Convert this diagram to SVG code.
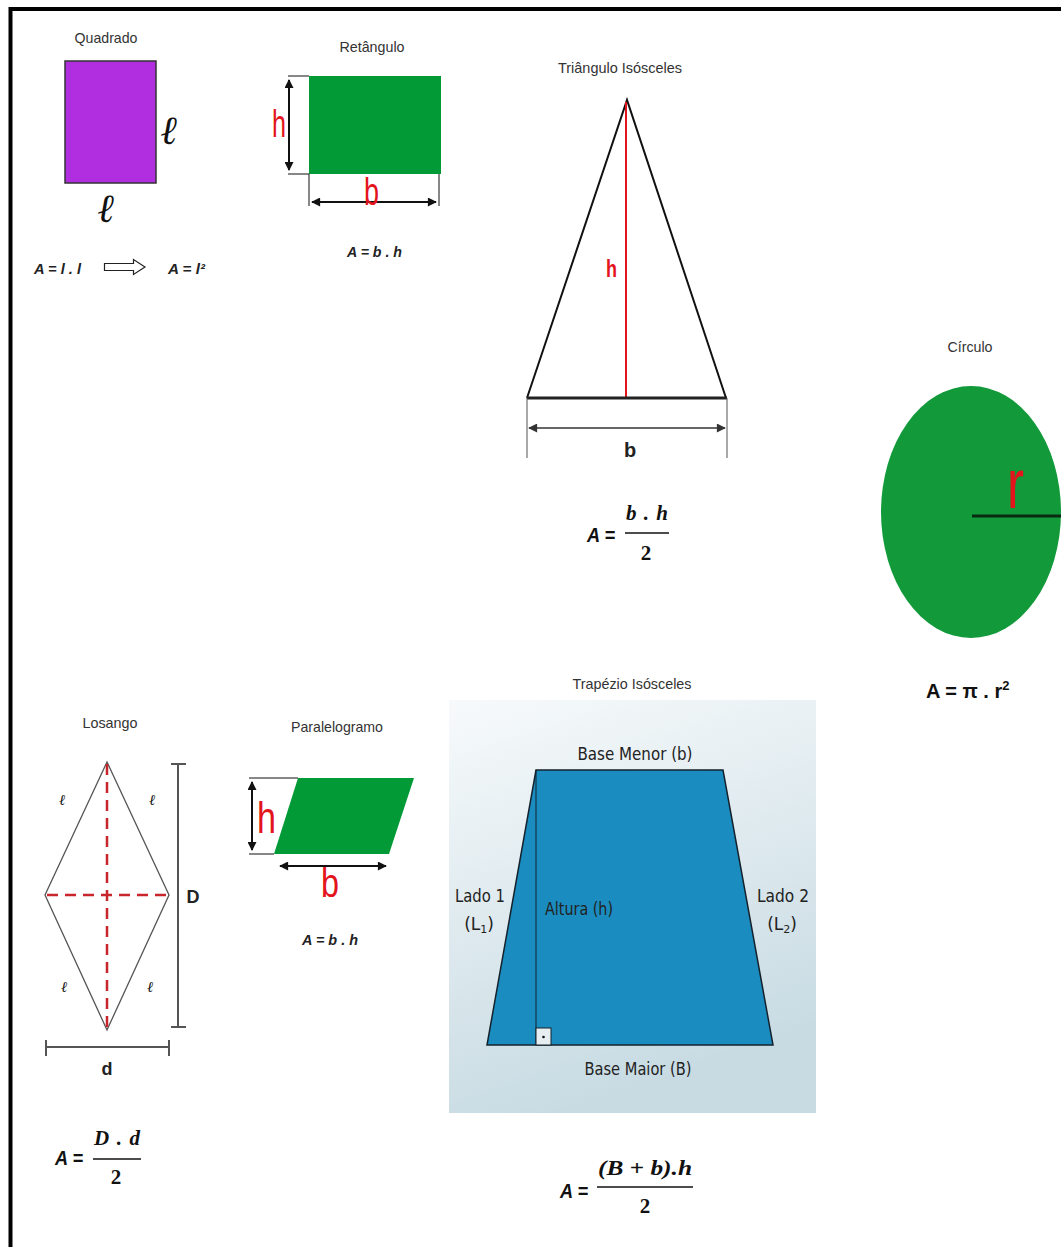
<svg xmlns="http://www.w3.org/2000/svg" width="1061" height="1247" viewBox="0 0 1061 1247">
<style>
.title{font-family:"Liberation Sans",Arial,sans-serif;font-size:15px;fill:#333}
.fml{font-family:"Liberation Sans",Arial,sans-serif;font-size:15px;font-weight:bold;font-style:italic;fill:#222}
.mfml{font-family:"Liberation Sans",Arial,sans-serif;font-size:21px;font-weight:bold;font-style:italic;fill:#111}
.math{font-family:"Liberation Serif","Times New Roman",serif;font-weight:bold;font-style:italic;font-size:21px;fill:#111}
.num{font-family:"Liberation Serif","Times New Roman",serif;font-weight:bold;font-size:21px;fill:#111}
.red{font-family:"Liberation Sans",Arial,sans-serif;fill:#e3141c}
.lab{font-family:"Liberation Sans",Arial,sans-serif;font-weight:bold;fill:#222}
.goth{font-family:"DejaVu Sans","Liberation Sans",sans-serif;font-size:17px;fill:#222}
.ell{font-family:"DejaVu Serif","Liberation Serif",serif;font-style:italic;fill:#111}
.dim{stroke:#111;stroke-width:2;fill:none}
.thin{stroke:#111;stroke-width:1;fill:none}
.bar{stroke:#111;stroke-width:1.5}
.green{fill:#029a36}
</style>
<defs>
<marker id="ah" viewBox="0 0 10 10" refX="9" refY="5" markerWidth="10" markerHeight="9" markerUnits="userSpaceOnUse" orient="auto-start-reverse">
<path d="M0,0 L10,5 L0,10 Z" fill="#111"/>
</marker>
<marker id="ahg" viewBox="0 0 10 10" refX="9" refY="5" markerWidth="10" markerHeight="9" markerUnits="userSpaceOnUse" orient="auto-start-reverse">
<path d="M0,0 L10,5 L0,10 Z" fill="#333"/>
</marker>
<linearGradient id="bg" x1="0" y1="0" x2="0.3" y2="1">
<stop offset="0" stop-color="#f7fafb"/>
<stop offset="1" stop-color="#c8dbe3"/>
</linearGradient>
</defs>
<rect width="1061" height="1247" fill="#fff"/>
<path d="M10.5,1247 V9 H1061" fill="none" stroke="#000" stroke-width="4"/>

<g id="quadrado">
<text class="title" x="106" y="43" text-anchor="middle" textLength="63" lengthAdjust="spacingAndGlyphs">Quadrado</text>
<rect x="65" y="61" width="91" height="122" fill="#b12ee0" stroke="#333" stroke-width="1.5"/>
<text class="ell" x="161" y="144" font-size="40" font-weight="bold">ℓ</text>
<text class="ell" x="98" y="222" font-size="40" font-weight="bold">ℓ</text>
<text class="fml" x="34" y="274" textLength="47" lengthAdjust="spacingAndGlyphs">A = l . l</text>
<text class="fml" x="168" y="274" textLength="37" lengthAdjust="spacingAndGlyphs">A = l²</text>
</g>

<g id="retangulo">
<text class="title" x="372" y="52" text-anchor="middle" textLength="65" lengthAdjust="spacingAndGlyphs">Retângulo</text>
<rect class="green" x="309" y="76" width="132" height="98"/>
<path class="thin" d="M288,76 H309 M288,174 H309 M309,174 V206 M439,174 V206"/>
<path class="dim" d="M289,80 V170" marker-start="url(#ah)" marker-end="url(#ah)"/>
<path class="dim" d="M312,202 H436" marker-start="url(#ah)" marker-end="url(#ah)"/>
<text class="red" x="272" y="137" font-size="38" textLength="14" lengthAdjust="spacingAndGlyphs">h</text>
<text class="red" x="364" y="205" font-size="38" textLength="15" lengthAdjust="spacingAndGlyphs">b</text>
<text class="fml" x="347" y="257" textLength="55" lengthAdjust="spacingAndGlyphs">A = b . h</text>
</g>

<g id="triangulo">
<text class="title" x="620" y="73" text-anchor="middle" textLength="124" lengthAdjust="spacingAndGlyphs">Triângulo Isósceles</text>
<path d="M527,398 L627,100 L726,398" fill="none" stroke="#111" stroke-width="2"/>
<line x1="626" y1="102" x2="626" y2="398" stroke="#e3141c" stroke-width="2"/>
<line x1="527" y1="398" x2="727" y2="398" stroke="#222" stroke-width="3"/>
<path d="M527,398 V458 M727,398 V458" stroke="#555" stroke-width="1" fill="none"/>
<path d="M529,428 H725" stroke="#333" stroke-width="1.5" fill="none" marker-start="url(#ahg)" marker-end="url(#ahg)"/>
<text class="red" x="606" y="277" font-size="24" font-weight="bold" textLength="11" lengthAdjust="spacingAndGlyphs">h</text>
<text class="lab" x="630" y="457" font-size="20" text-anchor="middle">b</text>
<text class="mfml" x="587" y="542" textLength="28" lengthAdjust="spacingAndGlyphs">A =</text>
<text class="math" x="647" y="520" text-anchor="middle" textLength="42" lengthAdjust="spacing" xml:space="preserve">b . h</text>
<line class="bar" x1="625" y1="533" x2="669" y2="533"/>
<text class="num" x="646" y="560" text-anchor="middle">2</text>
</g>

<g id="circulo">
<text class="title" x="970" y="352" text-anchor="middle" textLength="45" lengthAdjust="spacingAndGlyphs">Círculo</text>
<ellipse cx="971" cy="512" rx="90" ry="126" fill="#11993a"/>
<line x1="972" y1="516" x2="1061" y2="516" stroke="#0a2a12" stroke-width="3"/>
<text class="red" x="1007" y="508" font-size="70" textLength="17" lengthAdjust="spacingAndGlyphs">r</text>
<text x="926" y="698" font-family="Liberation Sans,Arial,sans-serif" font-weight="bold" font-size="20" fill="#111">A = π . r<tspan font-size="13" dy="-8">2</tspan></text>
</g>

<g id="losango">
<text class="title" x="110" y="728" text-anchor="middle" textLength="55" lengthAdjust="spacingAndGlyphs">Losango</text>
<path d="M107,762 L169,895 L107,1030 L45,895 Z" fill="none" stroke="#555" stroke-width="1.3"/>
<path d="M107,764 V1028 M47,895 H167" stroke="#c8262c" stroke-width="2.5" stroke-dasharray="11,7" fill="none"/>
<path d="M178,764 V1027 M171,764 H186 M171,1027 H186" stroke="#555" stroke-width="2" fill="none"/>
<path d="M46,1047 H169 M46,1040 V1056 M169,1040 V1056" stroke="#555" stroke-width="2" fill="none"/>
<text class="lab" x="193" y="903" font-size="18" text-anchor="middle">D</text>
<text class="lab" x="107" y="1075" font-size="18" text-anchor="middle">d</text>
<text class="ell" x="59" y="805" font-size="15" fill="#333">ℓ</text>
<text class="ell" x="149" y="805" font-size="15" fill="#333">ℓ</text>
<text class="ell" x="61" y="992" font-size="15" fill="#333">ℓ</text>
<text class="ell" x="147" y="992" font-size="15" fill="#333">ℓ</text>
<text class="mfml" x="55" y="1165" textLength="28" lengthAdjust="spacingAndGlyphs">A =</text>
<text class="math" x="117" y="1145" text-anchor="middle" textLength="46" lengthAdjust="spacing" xml:space="preserve">D . d</text>
<line class="bar" x1="93" y1="1159" x2="141" y2="1159"/>
<text class="num" x="116" y="1184" text-anchor="middle">2</text>
</g>

<g id="paralelogramo">
<text class="title" x="337" y="732" text-anchor="middle" textLength="92" lengthAdjust="spacingAndGlyphs">Paralelogramo</text>
<polygon class="green" points="298,778 414,778 389,854 274,854"/>
<path class="thin" d="M249,778 H298 M249,854 H274"/>
<path class="dim" d="M252,782 V850" marker-start="url(#ah)" marker-end="url(#ah)"/>
<path class="dim" d="M280,866 H386" marker-start="url(#ah)" marker-end="url(#ah)"/>
<text class="red" x="257" y="833" font-size="44" textLength="19" lengthAdjust="spacingAndGlyphs">h</text>
<text class="red" x="321" y="897" font-size="40" textLength="18" lengthAdjust="spacingAndGlyphs">b</text>
<text class="fml" x="302" y="945" textLength="56" lengthAdjust="spacingAndGlyphs">A = b . h</text>
</g>

<g id="trapezio">
<text class="title" x="632" y="689" text-anchor="middle" textLength="119" lengthAdjust="spacingAndGlyphs">Trapézio Isósceles</text>
<rect x="449" y="700" width="367" height="413" fill="url(#bg)"/>
<polygon points="536,770 723,770 773,1045 487,1045" fill="#1a8cc0" stroke="#15222c" stroke-width="1.5"/>
<line x1="536" y1="770" x2="536" y2="1045" stroke="#15222c" stroke-width="1"/>
<rect x="536" y="1028" width="15" height="17" fill="#e6eef2" stroke="#15222c" stroke-width="1"/>
<circle cx="543.5" cy="1037" r="1.3" fill="#111"/>
<text class="goth" x="635" y="760" text-anchor="middle" textLength="115" lengthAdjust="spacingAndGlyphs">Base Menor (b)</text>
<text class="goth" x="638" y="1075" text-anchor="middle" textLength="107" lengthAdjust="spacingAndGlyphs">Base Maior (B)</text>
<text class="goth" x="480" y="902" text-anchor="middle" textLength="50" lengthAdjust="spacingAndGlyphs">Lado 1</text>
<text class="goth" x="479" y="930" text-anchor="middle">(L<tspan font-size="11" dy="3">1</tspan><tspan dy="-3">)</tspan></text>
<text class="goth" x="783" y="902" text-anchor="middle" textLength="52" lengthAdjust="spacingAndGlyphs">Lado 2</text>
<text class="goth" x="782" y="930" text-anchor="middle">(L<tspan font-size="11" dy="3">2</tspan><tspan dy="-3">)</tspan></text>
<text class="goth" x="545" y="915" textLength="68" lengthAdjust="spacingAndGlyphs">Altura (h)</text>
<text class="mfml" x="560" y="1198" textLength="28" lengthAdjust="spacingAndGlyphs">A =</text>
<text class="math" x="645" y="1175" text-anchor="middle" textLength="94" lengthAdjust="spacingAndGlyphs" xml:space="preserve">(B <tspan font-style="normal">+</tspan> b).h</text>
<line class="bar" x1="597" y1="1187" x2="693" y2="1187"/>
<text class="num" x="645" y="1213" text-anchor="middle">2</text>
</g>

<g id="connectors">
<path d="M104.5,263.5 H133.5 V259.5 L145,267 L133.5,274.5 V270.5 H104.5 Z" fill="#fff" stroke="#222" stroke-width="1.2"/>
</g>
</svg>
